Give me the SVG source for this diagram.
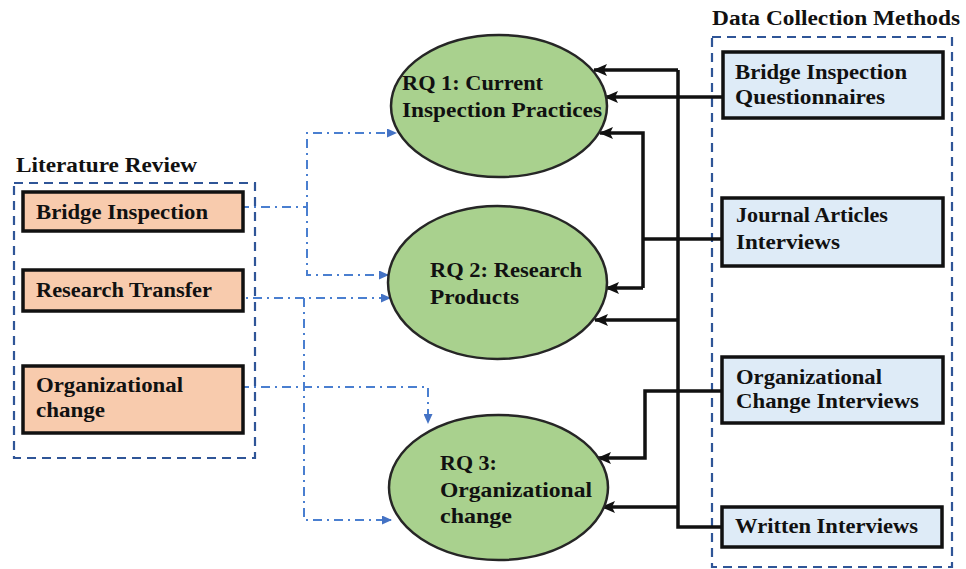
<svg xmlns="http://www.w3.org/2000/svg" width="966" height="569" viewBox="0 0 966 569">
<defs>
<style>
text{font-family:"Liberation Serif","Times New Roman",serif;font-weight:bold;fill:#111;}
.t{font-size:22px;}
.h{font-size:20px;}
.grp{fill:none;stroke:#2F5597;stroke-width:2.2;stroke-dasharray:9 6;}
.rq{fill:#A9D18E;stroke:#262626;stroke-width:2.5;}
.dc{fill:#DEEBF7;stroke:#111;stroke-width:3.5;}
.lr{fill:#F8CBAD;stroke:#111;stroke-width:3.5;}
.blk{fill:none;stroke:#111;stroke-width:3.5;}
.blu{fill:none;stroke:#4A7FD0;stroke-width:2;stroke-dasharray:9 5 2 5;}
</style>
<marker id="ab" viewBox="0 0 14 12" refX="13" refY="6" markerWidth="14" markerHeight="12" markerUnits="userSpaceOnUse" orient="auto">
<path d="M0,0 L14,6 L0,12 L3,6 z" fill="#111"/>
</marker>
<marker id="au" viewBox="0 0 10 9" refX="9" refY="4.5" markerWidth="10" markerHeight="9" markerUnits="userSpaceOnUse" orient="auto">
<path d="M0,0 L10,4.5 L0,9 z" fill="#4472C4"/>
</marker>
</defs>
<rect width="966" height="569" fill="#fff"/>

<g id="literature-review">
<text class="h" x="16" y="172" textLength="181" lengthAdjust="spacingAndGlyphs">Literature Review</text>
<rect class="grp" x="14" y="183" width="241" height="275"/>
</g>
<g id="data-collection">
<text class="h" x="712" y="25" textLength="248" lengthAdjust="spacingAndGlyphs">Data Collection Methods</text>
<rect class="grp" x="712" y="37" width="240" height="530"/>
</g>

<g id="connectors">
<path class="blu" d="M240,207 H307 V133 H396" marker-end="url(#au)"/>
<path class="blu" d="M307,207 V275 H388" marker-end="url(#au)"/>
<path class="blu" d="M232,298 H390" marker-end="url(#au)"/>
<path class="blu" d="M304,298 V520 H391" marker-end="url(#au)"/>
<path class="blu" d="M240,387 H428 V423" marker-end="url(#au)"/>

<path class="blk" d="M678,70 V527 H722"/>
<path class="blk" d="M678,70 H594" marker-end="url(#ab)"/>
<path class="blk" d="M678,320 H595" marker-end="url(#ab)"/>
<path class="blk" d="M678,507 H602" marker-end="url(#ab)"/>
<path class="blk" d="M722,97 H605" marker-end="url(#ab)"/>
<path class="blk" d="M722,239 H643"/>
<path class="blk" d="M643,288 V133 H600" marker-end="url(#ab)"/>
<path class="blk" d="M643,288 H606" marker-end="url(#ab)"/>
<path class="blk" d="M722,391 H645 V458 H598" marker-end="url(#ab)"/>
</g>

<g id="lr-bridge">
<rect class="lr" x="23" y="192" width="220" height="39"/>
<text class="t" x="36" y="219" textLength="172" lengthAdjust="spacingAndGlyphs">Bridge Inspection</text>
</g>
<g id="lr-research">
<rect class="lr" x="23" y="270" width="220" height="41"/>
<text class="t" x="36" y="297" textLength="176" lengthAdjust="spacingAndGlyphs">Research Transfer</text>
</g>
<g id="lr-org">
<rect class="lr" x="23" y="366" width="220" height="67"/>
<text class="t" x="36" y="392" textLength="147" lengthAdjust="spacingAndGlyphs">Organizational</text>
<text class="t" x="36" y="417" textLength="69" lengthAdjust="spacingAndGlyphs">change</text>
</g>

<g id="rq1">
<ellipse class="rq" cx="499" cy="106" rx="108" ry="71"/>
<text class="t" x="402" y="90" textLength="141" lengthAdjust="spacingAndGlyphs">RQ 1: Current</text>
<text class="t" x="402" y="117" textLength="200" lengthAdjust="spacingAndGlyphs">Inspection Practices</text>
</g>
<g id="rq2">
<ellipse class="rq" cx="497.5" cy="282.5" rx="109.5" ry="76.5"/>
<text class="t" x="430" y="277" textLength="152" lengthAdjust="spacingAndGlyphs">RQ 2: Research</text>
<text class="t" x="430" y="304" textLength="89" lengthAdjust="spacingAndGlyphs">Products</text>
</g>
<g id="rq3">
<ellipse class="rq" cx="498.5" cy="487.5" rx="109.5" ry="72.5"/>
<text class="t" x="440" y="470">RQ 3:</text>
<text class="t" x="440" y="497" textLength="152" lengthAdjust="spacingAndGlyphs">Organizational</text>
<text class="t" x="440" y="523" textLength="72" lengthAdjust="spacingAndGlyphs">change</text>
</g>

<g id="dc-questionnaires">
<rect class="dc" x="723" y="52" width="220" height="66"/>
<text class="t" x="735" y="79" textLength="172" lengthAdjust="spacingAndGlyphs">Bridge Inspection</text>
<text class="t" x="735" y="104" textLength="150" lengthAdjust="spacingAndGlyphs">Questionnaires</text>
</g>
<g id="dc-journal">
<rect class="dc" x="722" y="198" width="221" height="68"/>
<text class="t" x="736" y="222" textLength="152" lengthAdjust="spacingAndGlyphs">Journal Articles</text>
<text class="t" x="736" y="249" textLength="104" lengthAdjust="spacingAndGlyphs">Interviews</text>
</g>
<g id="dc-org">
<rect class="dc" x="722" y="357" width="221" height="66"/>
<text class="t" x="736" y="384" textLength="146" lengthAdjust="spacingAndGlyphs">Organizational</text>
<text class="t" x="736" y="408" textLength="183" lengthAdjust="spacingAndGlyphs">Change Interviews</text>
</g>
<g id="dc-written">
<rect class="dc" x="722" y="507" width="220" height="40"/>
<text class="t" x="735" y="533" textLength="183" lengthAdjust="spacingAndGlyphs">Written Interviews</text>
</g>
</svg>
